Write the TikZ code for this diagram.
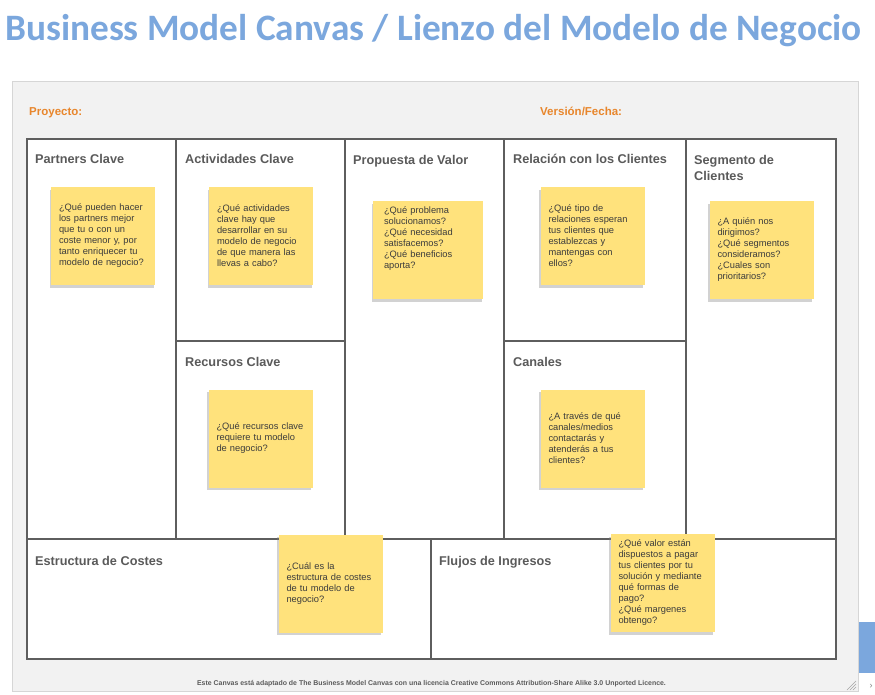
\documentclass[tikz,border=0pt]{standalone}
\usepackage{fontspec}
\setmainfont{Liberation Sans}
\newfontfamily\titlefont{Carlito}
\usetikzlibrary{positioning,
        shadows}
\usepackage{xcolor}
\definecolor{titleblue}{HTML}{7BA7DD}
\definecolor{orangelbl}{HTML}{E8862C}
\definecolor{panelgray}{HTML}{F2F2F2}
\definecolor{panelline}{HTML}{D6D6D6}
\definecolor{gridgray}{HTML}{5E5E5E}
\definecolor{headgray}{HTML}{5A5A5A}
\definecolor{notefill}{HTML}{FFE27C}
\definecolor{notefg}{HTML}{3C3C3C}

\begin{document}
\begin{tikzpicture}[x=1pt,y=-1pt,
        block/.style={anchor=base west,inner sep=0pt,font=\bfseries\fontsize{12.7}{16}\selectfont,text=headgray},
        tag/.style={anchor=base west,inner sep=0pt,font=\bfseries\fontsize{11.5}{14}\selectfont,text=orangelbl},
        notetxt/.style={text width=88pt,align=left,inner sep=0pt,font=\fontsize{9.3}{11}\selectfont,text=notefg},
        note/.style={notetxt,fill=notefill,inner xsep=8pt,minimum width=104pt,minimum height=98pt,
            drop shadow={shadow xshift=-1.5pt,shadow yshift=-2.5pt,opacity=.35}}]
            \useasboundingbox (0,0) rectangle (875,694);
            \node [anchor=base west,inner sep=0pt,font=\titlefont\bfseries\fontsize{37.3}{44}\selectfont,text=titleblue] (titulo) at (5,40) {Business Model Canvas / Lienzo del Modelo de Negocio};

            \draw [panelline,fill=panelgray] (12,81) rectangle (858,691);
            \node [tag] (proyecto) at (29,115) {Proyecto:};
            \node [tag] (version) at (540,115) {Versión/Fecha:};

            \fill [white] (27,139) rectangle (836,659);
            \foreach \x in {176,345,504,686}
                \draw [gridgray,line width=1.6pt] (\x,139) -- (\x,539);
            \draw [gridgray,line width=1.6pt] (176,341) -- (345,341);
            \draw [gridgray,line width=1.6pt] (504,341) -- (686,341);
            \draw [gridgray,line width=1.6pt] (27,539) -- (836,539);
            \draw [gridgray,line width=1.6pt] (431,539) -- (431,659);
            \draw [gridgray,line width=2.2pt] (27,139) rectangle (836,659);

            \node [block] (hPartners) at (35,163) {Partners Clave};
            \node [block] (hActividades) at (185,163) {Actividades Clave};
            \node [block] (hValor) at (353,164) {Propuesta de Valor};
            \node [block] (hRelacion) at (513,163) {Relación con los Clientes};
            \node [block,align=left] (hSegmento) at (694,180) {Segmento de\\Clientes};
            \node [block] (hRecursos) at (185,366) {Recursos Clave};
            \node [block] (hCanales) at (513,366) {Canales};
            \node [block] (hCostes) at (35,565) {Estructura de Costes};
            \node [block] (hIngresos) at (439,565) {Flujos de Ingresos};

            \node [note] (nPartners) at (103,236) {¿Qué pueden hacer\\los partners mejor\\que tu o con un\\coste menor y, por\\tanto enriquecer tu\\modelo de negocio?};
            \node [note] (nActividades) at (261,236) {¿Qué actividades\\clave hay que\\desarrollar en su\\modelo de negocio\\de que manera las\\llevas a cabo?};
            \node [note,minimum width=110pt] (nValor) at (428,250) {};
            \node [notetxt] (tValor) at (428,238.5) {¿Qué problema\\solucionamos?\\¿Qué necesidad\\satisfacemos?\\¿Qué beneficios\\aporta?};
            \node [note] (nRelacion) at (592.5,236) {¿Qué tipo de\\relaciones esperan\\tus clientes que\\establezcas y\\mantengas con\\ellos?};
            \node [note] (nSegmento) at (761.5,250) {¿A quién nos\\dirigimos?\\¿Qué segmentos\\consideramos?\\¿Cuales son\\prioritarios?};
            \node [note] (nRecursos) at (260.5,438.5) {¿Qué recursos clave\\requiere tu modelo\\de negocio?};
            \node [note] (nCanales) at (592.5,438.5) {¿A través de qué\\canales/medios\\contactarás y\\atenderás a tus\\clientes?};
            \node [note] (nCostes) at (330.5,583.5) {¿Cuál es la\\estructura de costes\\de tu modelo de\\negocio?};
            \node [note,minimum width=103pt] (nIngresos) at (662.5,583) {¿Qué valor están\\dispuestos a pagar\\tus clientes por tu\\solución y mediante\\qué formas de\\pago?\\¿Qué margenes\\obtengo?};

            \node [anchor=base,inner sep=0pt,font=\bfseries\fontsize{6.95}{8}\selectfont,text=headgray] (licencia) at (431.5,685.5) {Este Canvas está adaptado de The Business Model Canvas con una licencia Creative Commons Attribution-Share Alike 3.0 Unported Licence.};

            \fill [titleblue] (859,622) rectangle (875,673);
            \foreach \d in {3,6,9}
                \draw [gray!70,line width=0.6pt] (856-\d,690) -- (856,690-\d);
            \node [text=gray,inner sep=0pt,font=\fontsize{9}{9}\selectfont] (flecha) at (871,686) {›};
        \end{tikzpicture}
\end{document}
